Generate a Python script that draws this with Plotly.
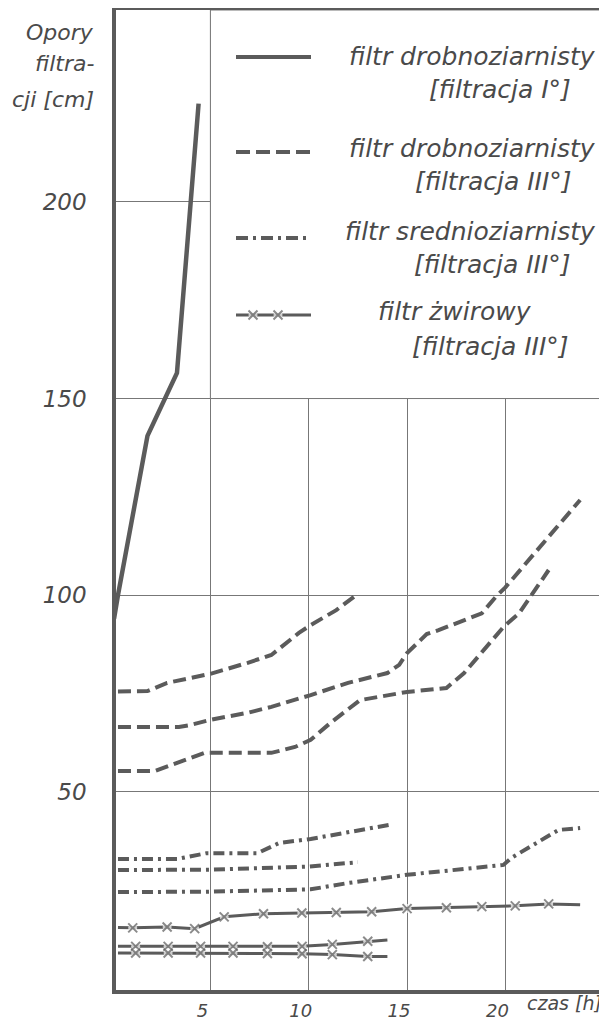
import plotly.graph_objects as go

# ---------------- data ----------------
# filtr drobnoziarnisty [filtracja I°]  (solid)
fine_I_x = [0.1, 0.3, 1.8, 3.3, 4.4]
fine_I_y = [94, 100, 140.5, 156.5, 225]

# filtr drobnoziarnisty [filtracja III°]  (dashed) - three runs
fine_IIIa_x = [0.3, 1.8, 2.8, 5.0, 6.9, 8.1, 9.5, 10.1, 11.4, 12.3]
fine_IIIa_y = [75.5, 75.6, 77.7, 80.0, 82.8, 84.8, 90.4, 92.4, 96.2, 99.6]

fine_IIIb_x = [0.3, 3.4, 4.0, 5.0, 6.9, 8.1, 10.1, 12.0, 14.0, 14.6, 15.0, 16.0, 16.6, 18.8, 19.5, 20.0, 23.8]
fine_IIIb_y = [66.5, 66.5, 67.0, 68.3, 70.1, 71.6, 74.6, 77.7, 80.2, 82.3, 85.3, 90.1, 91.1, 95.4, 99.5, 102.0, 124.2]

fine_IIIc_x = [0.3, 2.2, 3.0, 4.7, 8.1, 9.3, 10.1, 11.1, 12.6, 15.0, 17.0, 17.9, 19.9, 20.7, 22.2]
fine_IIIc_y = [55.3, 55.3, 56.8, 59.9, 59.9, 61.4, 63.2, 67.5, 73.3, 75.4, 76.4, 80.2, 91.9, 95.4, 106.4]

# filtr srednioziarnisty [filtracja III°]  (dash-dot) - three runs
med_a_x = [0.3, 3.3, 4.8, 7.4, 8.5, 10.1, 14.1]
med_a_y = [32.9, 32.9, 34.4, 34.4, 37.0, 38.0, 41.6]

med_b_x = [0.3, 5.0, 10.0, 12.5]
med_b_y = [30.1, 30.2, 31.0, 32.1]

med_c_x = [0.3, 4.9, 10.1, 12.0, 15.0, 19.9, 20.3, 22.7, 23.8]
med_c_y = [24.5, 24.6, 25.2, 26.8, 28.9, 31.4, 33.2, 40.3, 40.8]

# filtr zwirowy [filtracja III°]  (line with x marks) - three runs
grav_a_x = [0.3, 1.05, 2.8, 4.2, 5.7, 7.7, 9.65, 11.4, 13.2, 15.0, 17.0, 18.8, 20.5, 22.2, 23.8]
grav_a_y = [15.5, 15.4, 15.6, 15.2, 18.2, 19.0, 19.2, 19.3, 19.5, 20.3, 20.5, 20.8, 21.0, 21.5, 21.3]
grav_a_mark = [0, 1, 1, 1, 1, 1, 1, 1, 1, 1, 1, 1, 1, 1, 0]

grav_b_x = [0.3, 1.2, 2.85, 4.5, 6.15, 7.9, 9.66, 11.2, 13.0, 14.0]
grav_b_y = [10.7, 10.7, 10.7, 10.7, 10.7, 10.6, 10.7, 11.2, 12.0, 12.3]
grav_b_mark = [0, 1, 1, 1, 1, 1, 1, 1, 1, 0]

grav_c_x = [0.3, 1.2, 2.85, 4.5, 6.15, 7.9, 9.66, 11.2, 13.0, 14.0]
grav_c_y = [9.0, 9.0, 9.0, 9.0, 9.0, 8.9, 8.8, 8.6, 8.1, 8.1]
grav_c_mark = [0, 1, 1, 1, 1, 1, 1, 1, 1, 0]

x_ticks = [5, 10, 15, 20]
x_ticktext = ["5", "10", "15", "20"]
y_ticks = [50, 100, 150, 200]
y_ticktext = ["50", "100", "150", "200"]

y_title_lines = ["Opory", "filtra-", "cji [cm]"]
x_title = "czas [h]"
legend_items = [
    ("filtr drobnoziarnisty", "[filtracja I°]"),
    ("filtr drobnoziarnisty", "[filtracja III°]"),
    ("filtr srednioziarnisty", "[filtracja III°]"),
    ("filtr żwirowy", "[filtracja III°]"),
]

# ---------------- styling ----------------
OFF = 8                                   # default page (body) margin of the html
W, H = 607 - OFF, 1023 - OFF              # figure fits inside the window
L, R, T, B = 116, 600, 10, 990            # plot area in page pixels
XR = [0.2, 24.81]
YR = [-0.4, 248.8]
INK = "#5b5b5b"
TXT = "#4a4a4a"
GRID = "#777777"
FONT = "'DejaVu Sans', 'Noto Sans', sans-serif"
DASH = "13px,6px"
DASHDOT = "11px,5px,3px,5px"


def tf(size):
    return dict(family=FONT, size=size, color=TXT, style="italic", weight=300)


def px2x(px):
    return XR[0] + (px - L) / (R - L) * (XR[1] - XR[0])


def py2y(py):
    return YR[0] + (B - py) / (B - T) * (YR[1] - YR[0])


def ppx(px):
    return (px - L) / (R - L)


def ppy(py):
    return (B - py) / (B - T)


fig = go.Figure()

fig.add_trace(go.Scatter(x=fine_I_x, y=fine_I_y, mode="lines",
                         line=dict(color=INK, width=4.5)))
for xs, ys in [(fine_IIIa_x, fine_IIIa_y), (fine_IIIb_x, fine_IIIb_y), (fine_IIIc_x, fine_IIIc_y)]:
    fig.add_trace(go.Scatter(x=xs, y=ys, mode="lines",
                             line=dict(color=INK, width=4, dash=DASH)))
for xs, ys in [(med_a_x, med_a_y), (med_b_x, med_b_y), (med_c_x, med_c_y)]:
    fig.add_trace(go.Scatter(x=xs, y=ys, mode="lines",
                             line=dict(color=INK, width=4, dash=DASHDOT)))


def gravel(xs, ys, mk):
    # line broken around each mark (white halo), then the x mark on top
    fig.add_trace(go.Scatter(x=xs, y=ys, mode="lines+markers",
                             line=dict(color=INK, width=3),
                             marker=dict(symbol="circle", color="white",
                                         size=[9 * m for m in mk], line=dict(width=0))))
    fig.add_trace(go.Scatter(x=xs, y=ys, mode="markers",
                             marker=dict(symbol="x-thin", size=[9 * m for m in mk],
                                         line=dict(color=INK, width=2), color=INK)))


for xs, ys, mk in [(grav_a_x, grav_a_y, grav_a_mark), (grav_b_x, grav_b_y, grav_b_mark),
                   (grav_c_x, grav_c_y, grav_c_mark)]:
    gravel(xs, ys, mk)

# legend box (covers grid in upper right part)
fig.add_shape(type="rect", xref="x", yref="y", x0=5, x1=XR[1], y0=150, y1=YR[1],
              fillcolor="white", line=dict(color=GRID, width=1), layer="between")

# legend keys
key_x0, key_x1 = px2x(236), px2x(311)
key_py = [57, 152, 238, 315]
fig.add_shape(type="line", x0=key_x0, x1=key_x1, y0=py2y(key_py[0]), y1=py2y(key_py[0]),
              line=dict(color=INK, width=4))
fig.add_shape(type="line", x0=key_x0, x1=key_x1, y0=py2y(key_py[1]), y1=py2y(key_py[1]),
              line=dict(color=INK, width=4, dash="14px,6px"))
fig.add_shape(type="line", x0=key_x0, x1=key_x1, y0=py2y(key_py[2]), y1=py2y(key_py[2]),
              line=dict(color=INK, width=4, dash="12px,5px,3px,5px"))
gravel([key_x0, px2x(253), px2x(278), key_x1], [py2y(key_py[3])] * 4, [0, 1, 1, 0])

# legend texts
pos = [  # (line1 right px, line1 py, line2 right px, line2 py)
    (598, 56, 573, 89),
    (598, 148, 574, 181),
    (598, 231, 573, 264),
    (534, 311, 571, 346),
]
for (t1, t2), (r1, y1, r2, y2) in zip(legend_items, pos):
    fig.add_annotation(x=px2x(r1), y=py2y(y1), text=t1, showarrow=False, xanchor="right",
                       yanchor="middle", font=tf(25))
    fig.add_annotation(x=px2x(r2), y=py2y(y2), text=t2, showarrow=False, xanchor="right",
                       yanchor="middle", font=tf(25))

# y-axis title (three lines, right aligned)
for txt, py in zip(y_title_lines, [32, 64, 100]):
    fig.add_annotation(xref="paper", yref="paper", x=ppx(96), y=ppy(py),
                       text=txt, showarrow=False, xanchor="right", yanchor="middle",
                       font=tf(22))

# x-axis title next to the last tick label
fig.add_annotation(xref="paper", yref="paper", x=ppx(604), y=ppy(1003),
                   text=x_title, showarrow=False, xanchor="right", yanchor="middle",
                   font=tf(19))

fig.update_layout(
    width=W, height=H,
    margin=dict(l=L - OFF, r=W - (R - OFF), t=T - OFF, b=H - (B - OFF), autoexpand=False),
    paper_bgcolor="white", plot_bgcolor="white",
    showlegend=False,
)
fig.update_xaxes(range=XR, tickvals=x_ticks, ticktext=x_ticktext, showgrid=True,
                 gridcolor=GRID, gridwidth=1, zeroline=False, showline=True, mirror=True,
                 linecolor=INK, linewidth=3.5, ticks="", ticklabelstandoff=2,
                 ticklabelshift=-8, tickfont=tf(18), automargin=False)
fig.update_yaxes(range=YR, tickvals=y_ticks, ticktext=y_ticktext, showgrid=True,
                 gridcolor=GRID, gridwidth=1, zeroline=False, showline=True, mirror=True,
                 linecolor=INK, linewidth=3.5, ticks="", ticklabelstandoff=21,
                 tickfont=tf(23), automargin=False)

fig.write_html("out.html")
